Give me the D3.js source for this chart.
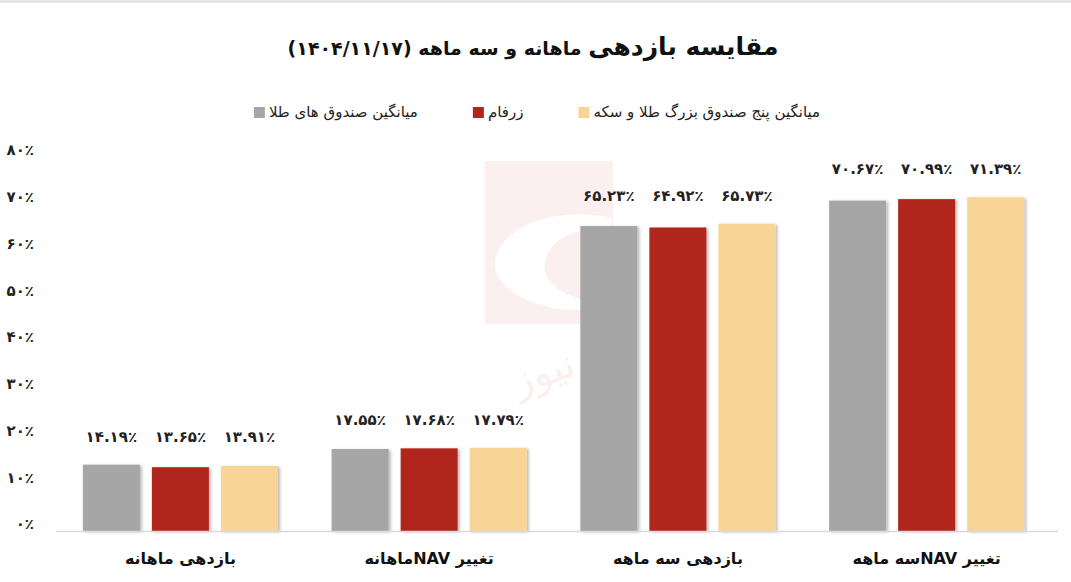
<!DOCTYPE html>
<html>
<head>
<meta charset="utf-8">
<script src="https://cdn.jsdelivr.net/npm/d3@7/dist/d3.min.js"></script>
<style>
  html, body { margin: 0; padding: 0; background: #fff; }
  svg { display: block; font-family: "DejaVu Sans", "Noto Sans", sans-serif; }
</style>
</head>
<body>
<svg id="chart" width="1071" height="582"></svg>
<script>
// ---- data ----
const categories = ["بازدهی ماهانه", "تغییر NAVماهانه", "بازدهی سه ماهه", "تغییر NAVسه ماهه"];
const seriesNames = ["میانگین صندوق های طلا", "زرفام", "میانگین پنج صندوق بزرگ طلا و سکه"];
const goldFundsAvg = [14.19, 17.55, 65.23, 70.67];
const zarfam = [13.65, 17.68, 64.92, 70.99];
const topFiveAvg = [13.91, 17.79, 65.73, 71.39];
const yTickValues = [0, 10, 20, 30, 40, 50, 60, 70, 80];
const seriesColors = ["#a6a6a6", "#b0261e", "#f8d597"];
const titleMain = "مقایسه بازدهی";
const titleRest = " ماهانه و سه ماهه (۱۴۰۴/۱۱/۱۷)";

const seriesValues = [goldFundsAvg, zarfam, topFiveAvg];
const faDigits = "۰۱۲۳۴۵۶۷۸۹";
const toFa = s => String(s).replace(/[0-9]/g, d => faDigits[+d]);
const pct = v => toFa(v) + "٪";

const svg = d3.select("#chart");
const W = 1071, H = 582;

// drop shadow
const defs = svg.append("defs");
const f = defs.append("filter").attr("id", "shadow").attr("x", "-20%").attr("y", "-20%").attr("width", "140%").attr("height", "140%");
f.append("feDropShadow").attr("dx", 2).attr("dy", 1).attr("stdDeviation", 1.6)
  .attr("flood-color", "#000").attr("flood-opacity", 0.28);

// top border artefact
svg.append("rect").attr("x", 0).attr("y", 0).attr("width", W).attr("height", 3).attr("fill", "#e6e6e6");

// scales
const x0 = d3.scaleBand().domain(categories).range([56, 1051]).paddingInner(0.216).paddingOuter(0.108);
const x1 = d3.scaleBand().domain(seriesNames).range([0, x0.bandwidth()]).paddingInner(0.174).paddingOuter(0);
const y = d3.scaleLinear().domain([0, 80]).range([531, 157]);

// faint watermark
const wm = svg.append("g").attr("opacity", 0.55);
wm.append("rect").attr("x", 485).attr("y", 161).attr("width", 128).attr("height", 163).attr("fill", "#fae3e3");
wm.append("path").attr("d", "M612,218 C555,205 498,228 495,262 C493,296 560,322 612,304 C580,302 540,290 545,262 C550,234 590,224 612,232 Z").attr("fill", "#ffffff");
wm.append("text").attr("x", 548).attr("y", 385).attr("text-anchor", "middle").attr("font-size", 40)
  .attr("fill", "#f8e2e2").attr("transform", "rotate(-20,548,385)").text("نیوز");

// title
const title = svg.append("text")
  .attr("x", 533).attr("y", 55)
  .attr("text-anchor", "middle")
  .attr("direction", "rtl")
  .attr("font-weight", "bold")
  .attr("fill", "#111");
title.append("tspan").attr("font-size", 25).text(titleMain);
title.append("tspan").attr("font-size", 19).text(titleRest);

// legend (flow layout, centered)
const legend = svg.append("g");
const items = seriesNames.map((n, i) => ({ name: n, color: seriesColors[i] }));
const lg = legend.selectAll("g").data(items).join("g");
lg.append("rect").attr("width", 11).attr("height", 11).attr("y", -10).attr("fill", d => d.color);
lg.append("text").attr("x", 15).attr("font-size", 15).attr("fill", "#222").text(d => d.name);
const widths = [];
lg.each(function () { widths.push(this.getBBox().width); });
const gap = 55;
const total = d3.sum(widths) + gap * (widths.length - 1);
const start = 537 - total / 2;
lg.attr("transform", (d, i) => {
  const tx = start + d3.sum(widths.slice(0, i)) + gap * i;
  return `translate(${tx},117)`;
});

// y axis
const yAxis = d3.axisLeft(y).tickValues(yTickValues).tickFormat(pct).tickSize(0).tickPadding(0);
const yg = svg.append("g").attr("transform", "translate(34,0)").call(yAxis);
yg.select(".domain").remove();
yg.selectAll("text").attr("font-size", 15).attr("font-weight", "bold").attr("fill", "#222")
  .attr("font-family", "DejaVu Sans").attr("dy", "-0.15em");

// bars
const groups = svg.append("g").selectAll("g").data(categories).join("g")
  .attr("transform", d => `translate(${x0(d)},0)`);
groups.selectAll("rect").data((c, ci) => seriesNames.map((s, si) => ({ s, si, v: seriesValues[si][ci] })))
  .join("rect")
  .attr("x", d => x1(d.s))
  .attr("width", x1.bandwidth())
  .attr("y", d => y(d.v))
  .attr("height", d => y(0) - y(d.v))
  .attr("fill", d => seriesColors[d.si])
  .attr("filter", "url(#shadow)");

// value labels (aligned per category above the tallest bar)
groups.each(function (c, ci) {
  const maxV = d3.max(seriesValues, arr => arr[ci]);
  d3.select(this).selectAll("text.val").data(seriesNames.map((s, si) => ({ s, v: seriesValues[si][ci] })))
    .join("text").attr("class", "val")
    .attr("x", d => x1(d.s) + x1.bandwidth() / 2)
    .attr("y", y(maxV) - 23)
    .attr("text-anchor", "middle")
    .attr("font-size", 15).attr("font-weight", "bold").attr("fill", "#222")
    .text(d => pct(d.v.toFixed(2)));
});

// x axis
const xAxis = d3.axisBottom(x0).tickSize(0).tickPadding(22);
const xg = svg.append("g").attr("transform", `translate(0,${y(0)})`).call(xAxis);
xg.select(".domain").attr("stroke", "#d9d9d9").attr("stroke-width", 1.5)
  .attr("d", `M56,0.5H1058`);
xg.selectAll("text").attr("font-size", 16).attr("font-weight", "bold").attr("fill", "#111")
  .attr("font-family", "DejaVu Sans").attr("direction", "rtl");
</script>
</body>
</html>
